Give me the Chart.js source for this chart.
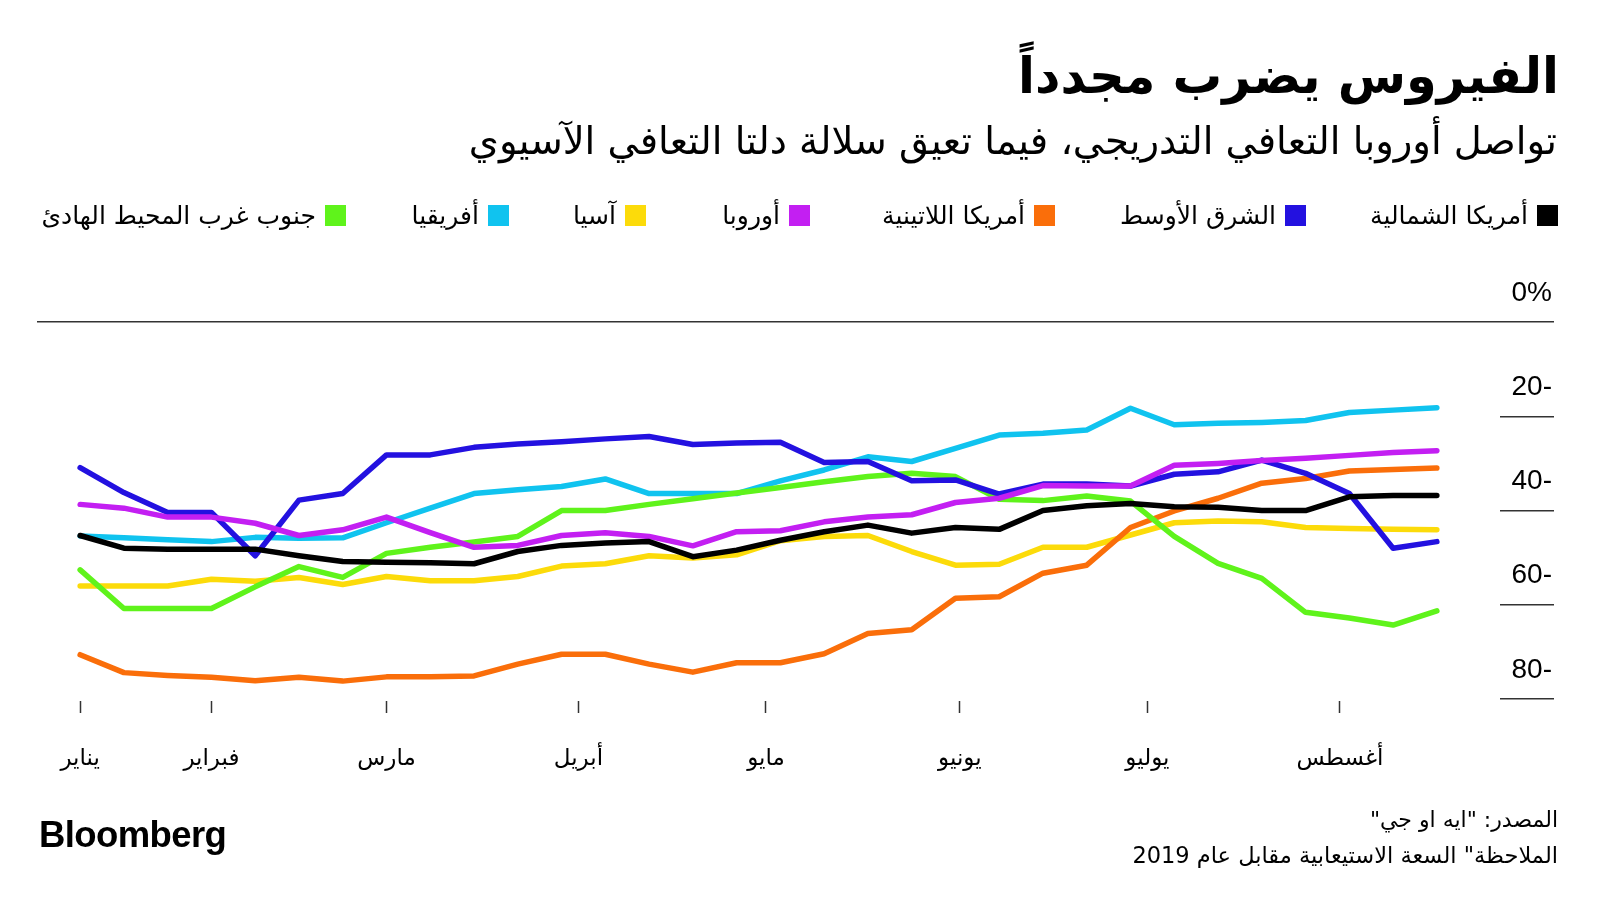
<!DOCTYPE html>
<html lang="ar">
<head>
<meta charset="utf-8">
<script src="https://cdn.jsdelivr.net/npm/chart.js@4.4.1/dist/chart.umd.min.js"></script>
<style>
  html, body { margin: 0; padding: 0; background: #fff; }
  #wrap { position: relative; width: 1600px; height: 900px; overflow: hidden; }
  #chart { position: absolute; left: 0; top: 0; }
  .txt { position: absolute; direction: rtl; white-space: nowrap; color: #000;
         font-family: "DejaVu Sans", sans-serif; }
  #title { right: 41px; top: 51px; font-size: 49.5px; font-weight: bold; line-height: 50px; }
  #subtitle { right: 43px; top: 120px; font-size: 38.5px; line-height: 42px; }
  .leg { position: absolute; top: 202px; height: 26px; display: flex; flex-direction: row-reverse;
         align-items: center; font-family: "DejaVu Sans", sans-serif; font-size: 25px; white-space: nowrap; }
  .leg i { display: block; width: 21px; height: 21px; margin-left: 9px; }
  #source { right: 42px; top: 807px; font-size: 22px; line-height: 26px; }
  #note { right: 42px; top: 842px; font-size: 22.5px; line-height: 26px; }
  #logo { position: absolute; left: 39px; top: 815px; font-family: "Liberation Sans", Arial, sans-serif;
          font-weight: bold; font-size: 36.5px; line-height: 40px; letter-spacing: -0.6px; }
</style>
</head>
<body>
<div id="wrap">
  <canvas id="chart" width="1600" height="900"></canvas>
  <div class="txt" id="title">الفيروس يضرب مجدداً</div>
  <div class="txt" id="subtitle">تواصل أوروبا التعافي التدريجي، فيما تعيق سلالة دلتا التعافي الآسيوي</div>
  <div id="legend"></div>
  <div class="txt" id="source">المصدر: "ايه او جي"</div>
  <div class="txt" id="note">الملاحظة" السعة الاستيعابية مقابل عام 2019</div>
  <div id="logo">Bloomberg</div>
</div>
<script>
  "use strict";

  // days since the first weekly reading
  var weekDays = [0, 7, 14, 21, 28, 35, 42, 49, 56, 63, 70, 77, 84, 91, 98, 105,
                  112, 119, 126, 133, 140, 147, 154, 161, 168, 175, 182, 189, 196, 203, 210, 217];

  var monthDays = [0, 21, 49, 79.7, 109.7, 140.7, 170.7, 201.5];
  var monthNames = ["يناير", "فبراير", "مارس", "أبريل", "مايو", "يونيو", "يوليو", "أغسطس"];

  var yTicks = [0, -20, -40, -60, -80];

  var seriesNames = ["أمريكا الشمالية", "الشرق الأوسط", "أمريكا اللاتينية", "أوروبا",
                     "آسيا", "أفريقيا", "جنوب غرب المحيط الهادئ"];

  var northAmerica = [-45.3, -48.0, -48.2, -48.2, -48.2, -49.6, -50.8, -51.0, -51.1, -51.3, -48.7, -47.4,
                      -46.9, -46.6, -49.8, -48.4, -46.3, -44.5, -43.1, -44.8, -43.6, -44.0, -40.0, -39.0,
                      -38.5, -39.2, -39.3, -40.0, -40.0, -37.1, -36.8, -36.8];
  var middleEast = [-30.9, -36.2, -40.4, -40.4, -49.6, -37.8, -36.4, -28.2, -28.2, -26.6, -25.9, -25.4,
                    -24.8, -24.3, -26.0, -25.7, -25.5, -29.8, -29.6, -33.7, -33.5, -36.5, -34.4, -34.4,
                    -34.8, -32.3, -31.8, -29.3, -32.1, -36.4, -48.0, -46.6];
  var latinAmerica = [-70.6, -74.4, -75.0, -75.4, -76.1, -75.4, -76.2, -75.3, -75.3, -75.1, -72.6, -70.5,
                      -70.5, -72.6, -74.3, -72.3, -72.3, -70.4, -66.1, -65.3, -58.6, -58.3, -53.3, -51.6,
                      -43.6, -40.1, -37.4, -34.2, -33.2, -31.6, -31.3, -31.0];
  var europe = [-38.7, -39.5, -41.4, -41.4, -42.7, -45.3, -44.1, -41.4, -44.7, -47.8, -47.4, -45.3,
                -44.7, -45.5, -47.5, -44.5, -44.3, -42.4, -41.4, -40.9, -38.3, -37.4, -34.7, -34.8,
                -34.8, -30.4, -30.0, -29.4, -28.9, -28.3, -27.7, -27.3];
  var asia = [-56.0, -56.0, -56.0, -54.6, -55.0, -54.2, -55.7, -54.0, -54.9, -54.9, -54.0, -51.8,
              -51.3, -49.6, -50.1, -49.4, -46.4, -45.5, -45.3, -48.7, -51.6, -51.4, -47.8, -47.8,
              -45.2, -42.6, -42.2, -42.4, -43.6, -43.8, -44.0, -44.1];
  var africa = [-45.4, -45.8, -46.2, -46.6, -45.7, -45.9, -45.8, -42.6, -39.5, -36.4, -35.6, -34.9,
                -33.3, -36.4, -36.4, -36.4, -33.7, -31.4, -28.6, -29.6, -26.8, -24.0, -23.6, -22.9,
                -18.3, -21.8, -21.5, -21.3, -20.9, -19.2, -18.7, -18.2];
  var swPacific = [-52.6, -60.8, -60.8, -60.8, -56.2, -51.9, -54.2, -49.1, -47.8, -46.7, -45.5, -40.0,
                   -40.0, -38.7, -37.5, -36.3, -35.1, -33.9, -32.8, -32.1, -32.8, -37.6, -37.9, -36.9,
                   -38.0, -45.5, -51.2, -54.4, -61.6, -62.8, -64.3, -61.3];

  var seriesValues = [northAmerica, middleEast, latinAmerica, europe, asia, africa, swPacific];
  var seriesColors = ["#000000", "#2311e0", "#fa6e0a", "#c31ff2", "#fcdb0a", "#10c3ef", "#5ff31b"];
  var drawOrder = [0, 2, 5, 1, 6, 4, 3];

  // legend, right edge of each colour square
  var legendRight = [1558, 1306, 1055, 810, 646, 509, 346];
  var legendBox = document.getElementById("legend");
  seriesNames.forEach(function (name, i) {
    var item = document.createElement("div");
    item.className = "leg";
    item.style.right = (1600 - legendRight[i]) + "px";
    item.innerHTML = '<i style="background:' + seriesColors[i] + '"></i><span>' + name + "</span>";
    legendBox.appendChild(item);
  });

  var datasets = seriesValues.map(function (values, i) {
    return {
      label: seriesNames[i],
      data: weekDays.map(function (d, k) { return { x: d, y: values[k] }; }),
      borderColor: seriesColors[i],
      backgroundColor: seriesColors[i],
      borderWidth: 5.5,
      borderCapStyle: "round",
      borderJoinStyle: "round",
      pointRadius: 0,
      tension: 0,
      fill: false,
      order: drawOrder[i],
    };
  });

  var chartCanvas = document.getElementById("chart");

  var virusChart = new Chart(chartCanvas, {
    type: "line",
    data: { datasets: datasets },
    options: {
      responsive: false,
      animation: false,
      events: [],
      layout: { padding: { left: 37, right: 48, top: 322, bottom: 127 } },
      plugins: {
        legend: { display: false },
        tooltip: { enabled: false },
      },
      scales: {
        x: {
          type: "linear",
          min: -6.9,
          max: 227.1,
          afterBuildTicks: function (scale) {
            scale.ticks = monthDays.map(function (v) { return { value: v }; });
          },
          afterFit: function (scale) { scale.height = 72; },
          ticks: {
            autoSkip: false,
            maxRotation: 0,
            padding: 32,
            color: "#000",
            font: { family: "DejaVu Sans", size: 23 },
            callback: function (value, index) { return monthNames[index]; },
          },
          grid: {
            drawOnChartArea: false,
            drawTicks: true,
            tickLength: 12,
            tickColor: "#333",
            tickWidth: 1.5,
          },
          border: { display: false },
        },
        y: {
          position: "right",
          min: -80.42,
          max: 0,
          afterBuildTicks: function (scale) {
            scale.ticks = yTicks.map(function (v) { return { value: v }; });
          },
          afterFit: function (scale) { scale.width = 52; },
          ticks: {
            padding: -43,
            crossAlign: "far",
            labelOffset: -29,
            color: "#000",
            font: { family: "Liberation Sans", size: 28 },
            callback: function (value) { return value === 0 ? "0%" : Math.abs(value) + "-"; },
          },
          grid: {
            color: function (c) { return c.tick && c.tick.value === 0 ? "#333" : "rgba(0,0,0,0)"; },
            lineWidth: 1.5,
            tickLength: 54,
            tickColor: "#333",
            tickWidth: 1.5,
          },
          border: { display: false },
        },
      },
    },
  });
</script>
</body>
</html>
